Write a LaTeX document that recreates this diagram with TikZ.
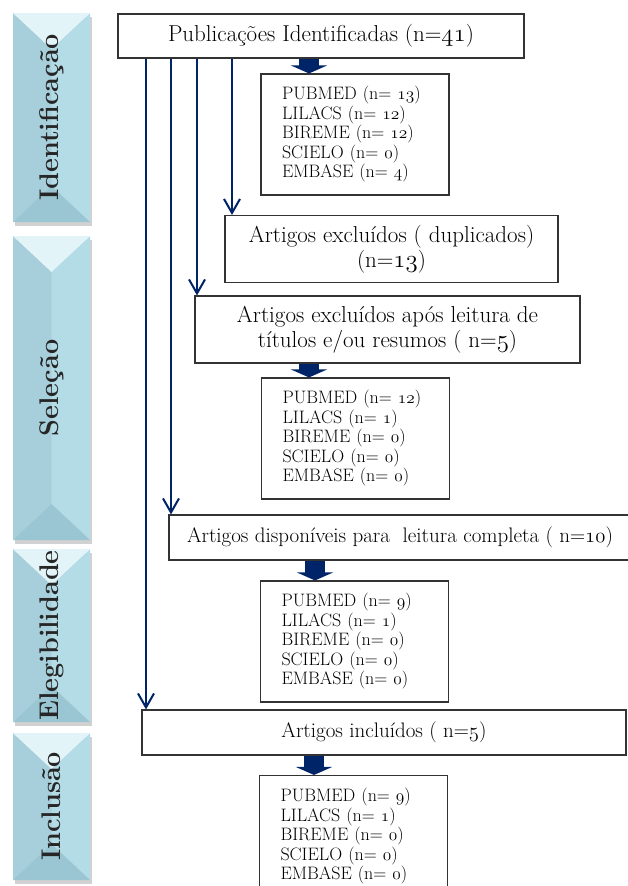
\documentclass[tikz,border=0pt]{standalone}
\usetikzlibrary{arrows.meta}
\definecolor{marinho}{RGB}{0,36,104}
\definecolor{azulbase}{RGB}{180,220,231}
\definecolor{azultopo}{RGB}{226,244,248}
\definecolor{azulesq}{RGB}{166,207,219}
\definecolor{azulbaixo}{RGB}{154,198,211}
\newcommand\osn[1]{{\usefont{OML}{cmm}{m}{it}#1}}
\newcommand\faixa[5]{%
  \fill[black!30, opacity=.6] (#1+2,#2+4) rectangle (#3+2,#4+4);
  \fill[azulesq] (#1,#2) -- ({(#1+#3)/2},#2+36) -- ({(#1+#3)/2},#4-36) -- (#1,#4) -- cycle;
  \fill[azulbase] (#3,#2) -- ({(#1+#3)/2},#2+36) -- ({(#1+#3)/2},#4-36) -- (#3,#4) -- cycle;
  \fill[azultopo] (#1,#2) -- (#3,#2) -- ({(#1+#3)/2},#2+36) -- cycle;
  \fill[azulbaixo] (#1,#4) -- (#3,#4) -- ({(#1+#3)/2},#4-36) -- cycle;
  \node[rotate=90, font=\fontsize{27}{30}\selectfont\bfseries, text=black!85] at ({(#1+#3)/2},{(#2+#4)/2}) {#5};}

\begin{document}
\begin{tikzpicture}[x=1pt, y=-1pt,
    caixa/.style={draw=black!80, line width=1.1pt, fill=white, align=center, inner sep=0pt,
      font=\fontsize{23}{25}\selectfont},
    base/.style={draw=black!80, line width=1.1pt, fill=white, align=left, inner xsep=21pt,
      text width=146pt, minimum width=188pt, minimum height=121pt, font=\fontsize{18}{19.5}\selectfont},
    seta/.style={draw=marinho, line width=2pt, -{Straight Barb[length=14pt,width=16pt]}},
    bloco/.style={draw=marinho, line width=20pt, -{Triangle[length=8pt,width=36pt]}}]
    \useasboundingbox (0,0) rectangle (627,886);
    \faixa{13}{13}{90}{222}{Identificação}
    \faixa{13}{236}{90}{540}{Seleção}
    \faixa{13}{549}{90}{722}{Elegibilidade}
    \faixa{13}{733}{90}{880}{Inclusão}

    \node[caixa, minimum width=406pt, minimum height=44pt] (pub) at (321,36) {Publicações Identificadas (n=\osn{41})};
    \node[base] (db1) at (355,134.5)
      {PUBMED (n= \osn{13})\\LILACS (n= \osn{12})\\BIREME (n= \osn{12})\\SCIELO (n= \osn{0})\\EMBASE (n= \osn{4})};
    \node[caixa, minimum width=333pt, minimum height=67pt] (dup) at (391.5,249)
      {Artigos excluídos ( duplicados)\\(n=\osn{13})};
    \node[caixa, minimum width=385pt, minimum height=67pt] (apos) at (387.5,329.5)
      {Artigos excluídos após leitura de\\títulos e/ou resumos ( n=\osn{5})};
    \node[base] (db2) at (355.5,438.5)
      {PUBMED (n= \osn{12})\\LILACS (n= \osn{1})\\BIREME (n= \osn{0})\\SCIELO (n= \osn{0})\\EMBASE (n= \osn{0})};
    \node[caixa, minimum width=462pt, minimum height=45pt, font=\fontsize{21}{24}\selectfont] (disp) at (400,537.5)
      {Artigos disponíveis para\ \ leitura completa ( n=\osn{10})};
    \node[base] (db3) at (354.5,641.5)
      {PUBMED (n= \osn{9})\\LILACS (n= \osn{1})\\BIREME (n= \osn{0})\\SCIELO (n= \osn{0})\\EMBASE (n= \osn{0})};
    \node[caixa, minimum width=484pt, minimum height=45pt, font=\fontsize{21}{24}\selectfont] (incl) at (384,732.5)
      {Artigos incluídos ( n=\osn{5})};
    \node[base] (db4) at (353.5,836)
      {PUBMED (n= \osn{9})\\LILACS (n= \osn{1})\\BIREME (n= \osn{0})\\SCIELO (n= \osn{0})\\EMBASE (n= \osn{0})};

    \draw[seta] (pub.south -| 146,0) -- (incl.north -| 146,0);
    \draw[seta] (pub.south -| 171,0) -- (disp.north -| 171,0);
    \draw[seta] (pub.south -| 197,0) -- (apos.north -| 197,0);
    \draw[seta] (pub.south -| 232,0) -- (dup.north -| 232,0);

    \draw[bloco] (pub.south -| 309,0) -- (db1.north -| 309,0);
    \draw[bloco] (apos.south -| 309,0) -- (db2.north -| 309,0);
    \draw[bloco] (disp.south -| 315,0) -- (db3.north -| 315,0);
    \draw[bloco] (incl.south -| 314,0) -- (db4.north -| 314,0);
\end{tikzpicture}
\end{document}
